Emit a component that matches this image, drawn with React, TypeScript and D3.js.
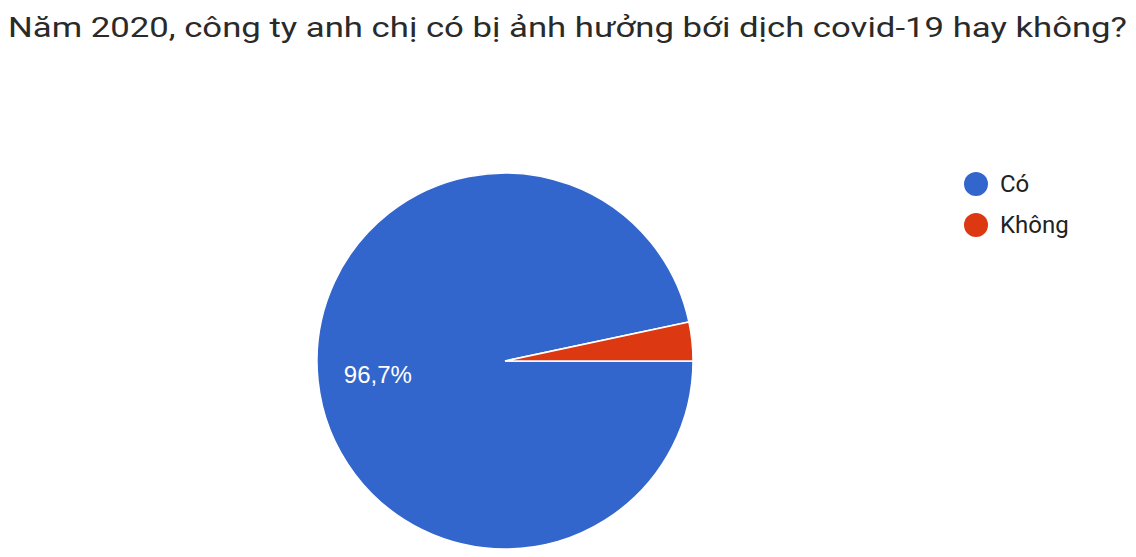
import React from "react";
import * as d3 from "d3";

const title = "Năm 2020, công ty anh chị có bị ảnh hưởng bới dịch covid-19 hay không?";
const categories = ["Có", "Không"];
const counts = [29, 1];
const colors = ["#3366cc", "#dc3912"];

const W = 1136;
const H = 557;

export default function App() {
  const cx = 505;
  const cy = 361;
  const r = 188;
  const total = d3.sum(counts);
  const pie = d3
    .pie<number>()
    .sort(null)
    .startAngle(Math.PI / 2)
    .endAngle(Math.PI / 2 + 2 * Math.PI);
  const arcs = pie(counts);
  const arcGen = d3.arc<d3.PieArcDatum<number>>().innerRadius(0).outerRadius(r);
  const labelArc = d3
    .arc<d3.PieArcDatum<number>>()
    .innerRadius(r * 0.68)
    .outerRadius(r * 0.68);
  const fmt = (v: number) => (Math.round((v / total) * 1000) / 10).toString().replace(".", ",") + "%";
  const legendY = d3.scalePoint<string>().domain(categories).range([184, 225]);

  return (
    <svg
      width={W}
      height={H}
      style={{ position: "absolute", left: 0, top: 0, background: "#fff" }}
      fontFamily="Roboto, Arial, sans-serif"
    >
      <rect width={W} height={H} fill="#fff" />
      <text x={8} y={37} fontSize={28} fill="#2a2a2a" textLength={1119} lengthAdjust="spacingAndGlyphs">
        {title}
      </text>
      <g transform={`translate(${cx},${cy})`}>
        {arcs.map((a, i) => (
          <path key={i} d={arcGen(a) || ""} fill={colors[i]} stroke="#fff" strokeWidth={1.5} />
        ))}
        {arcs.map((a, i) => {
          if (a.endAngle - a.startAngle < 0.5) return null;
          const [lx, ly] = labelArc.centroid(a);
          return (
            <text
              key={i}
              x={lx}
              y={ly}
              fontSize={24}
              fontFamily="'Liberation Sans', Arial, sans-serif"
              fill="#fff"
              textAnchor="middle"
              dominantBaseline="central"
            >
              {fmt(a.data)}
            </text>
          );
        })}
      </g>
      {categories.map((c, i) => (
        <g key={c}>
          <circle cx={976} cy={legendY(c)} r={12} fill={colors[i]} />
          <text x={1000} y={legendY(c)! + 8} fontSize={24} fill="#222">
            {c}
          </text>
        </g>
      ))}
    </svg>
  );
}
